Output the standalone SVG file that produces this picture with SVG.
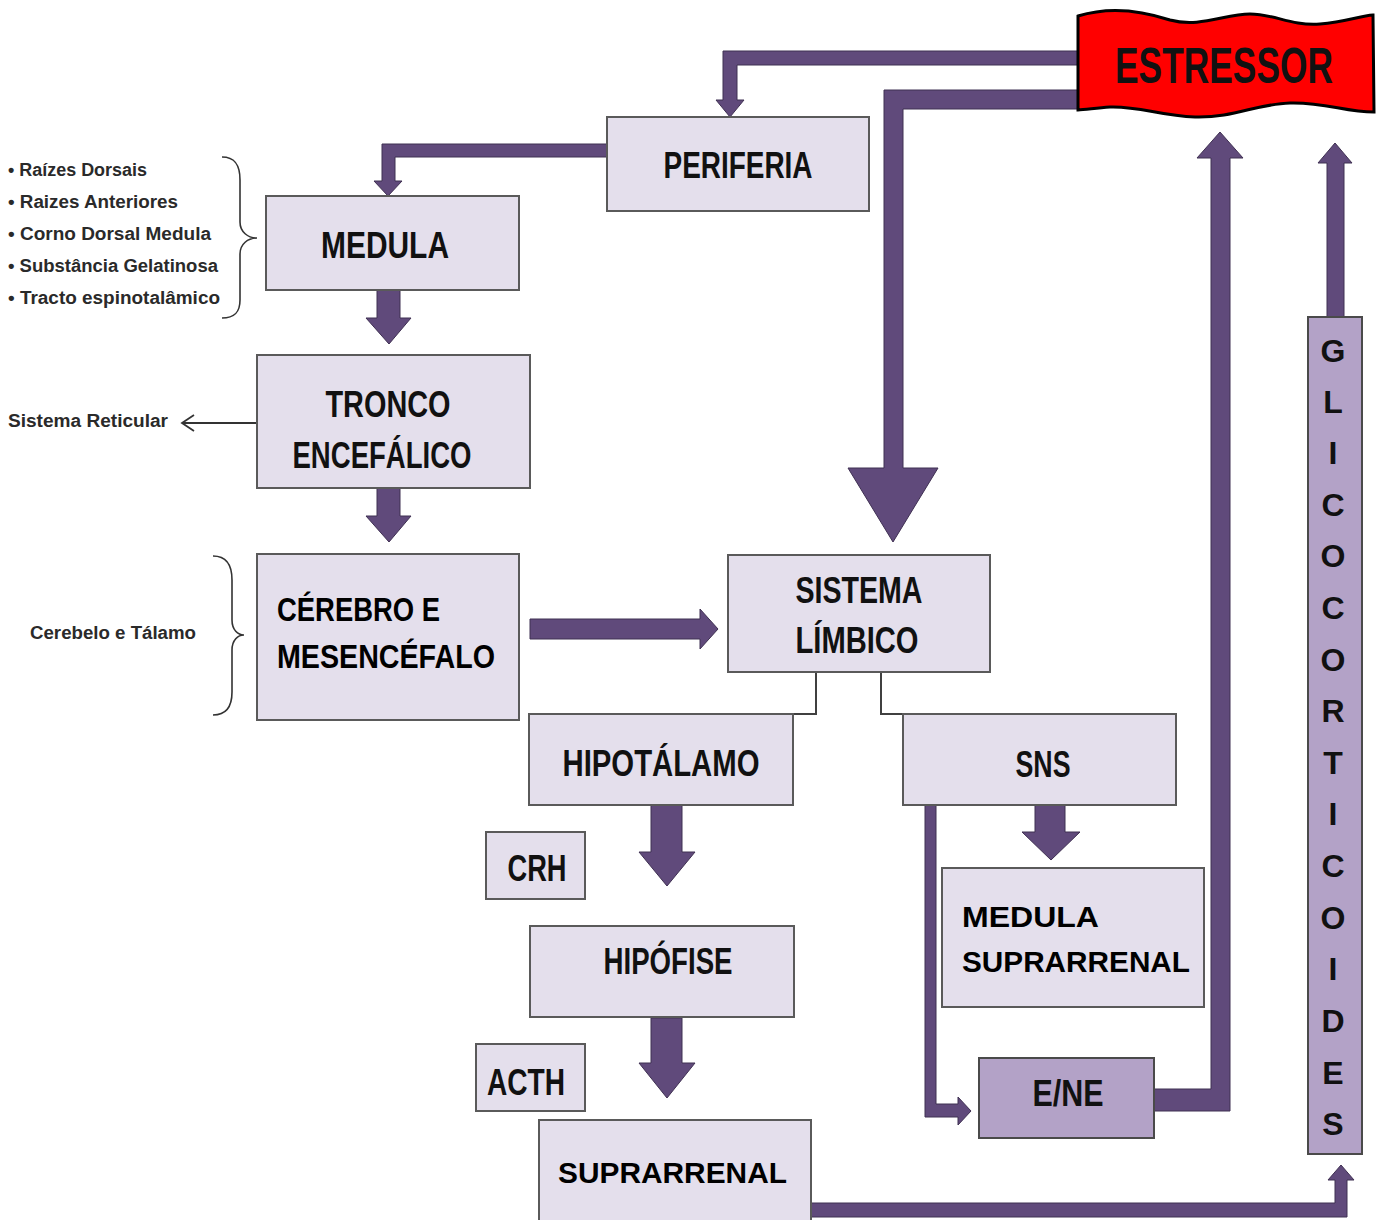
<svg xmlns="http://www.w3.org/2000/svg" width="1384" height="1220" viewBox="0 0 1384 1220">
<style>
.box{fill:#E4DFEC;stroke:#5a5a5a;stroke-width:2}
.box2{fill:#B3A2C7;stroke:#4a4a4a;stroke-width:2}
.arr{fill:#604A7B;stroke:#3f3052;stroke-width:1}
.thin{fill:none;stroke:#404040;stroke-width:2}
.brace{fill:none;stroke:#333;stroke-width:1.6}
.c{font-family:"Liberation Sans",Arial,sans-serif;font-weight:bold;font-size:36px;fill:#111;text-anchor:middle}
.w{font-family:"Liberation Sans",Arial,sans-serif;font-weight:bold;font-size:31px;fill:#000}
.s{font-family:"Liberation Sans",Arial,sans-serif;font-weight:bold;font-size:18px;fill:#2a2a2a}
.g{font-family:"Liberation Sans",Arial,sans-serif;font-weight:bold;font-size:32px;fill:#111;text-anchor:middle}
</style>
<rect width="1384" height="1220" fill="#fff"/>

<g id="connectors">
<polygon class="arr" points="1080,51 723,51 723,100 716,100 730,117 744,100 737,100 737,65 1080,65"/>
<polygon class="arr" points="1080,90 884,90 884,468 848,468 893,542 938,468 903,468 903,109 1080,109"/>
<polygon class="arr" points="607,144 382,144 382,181 374,181 388,196 402,181 395,181 395,157 607,157"/>
<polygon class="arr" points="377,290 400,290 400,318 411,318 389,344 366,318 377,318"/>
<polygon class="arr" points="377,488 400,488 400,516 411,516 389,542 366,516 377,516"/>
<polygon class="arr" points="530,619 700,619 700,609 718,629 700,649 700,639 530,639"/>
<polygon class="arr" points="651,805 682,805 682,852 695,852 667,886 639,852 651,852"/>
<polygon class="arr" points="651,1018 682,1018 682,1063 695,1063 667,1098 639,1063 651,1063"/>
<polygon class="arr" points="1035,805 1065,805 1065,832 1080,832 1051,860 1022,832 1035,832"/>
<polygon class="arr" points="925,805 936,805 936,1104 958,1104 958,1097 971,1111 958,1125 958,1117 925,1117"/>
<polygon class="arr" points="1154,1089 1211,1089 1211,158 1197,158 1220,132 1243,158 1230,158 1230,1111 1154,1111"/>
<polygon class="arr" points="811,1203 1335,1203 1335,1180 1328,1180 1341,1165 1354,1180 1347,1180 1347,1217 811,1217"/>
<polygon class="arr" points="1327,317 1327,163 1318,163 1335,143 1352,163 1344,163 1344,317"/>
<path class="thin" d="M816,672 V714 H793"/>
<path class="thin" d="M881,672 V714 H903"/>
<path d="M257,423 H183 M194,415 L182,423 L194,431" fill="none" stroke="#333" stroke-width="1.8"/>
</g>

<g id="estressor">
<path d="M1078,16 C1110,6 1140,10 1170,20 C1200,28 1225,14 1250,14 C1275,14 1290,26 1320,24 C1345,22 1360,16 1373,15 L1374,112 C1345,112 1325,102 1290,103 C1255,104 1235,118 1195,117 C1160,116 1140,106 1110,107 C1095,108 1085,110 1078,110 Z" fill="#FF0000" stroke="#000" stroke-width="3"/>
<text class="c" x="1224" y="83" style="font-size:50px" textLength="218" lengthAdjust="spacingAndGlyphs">ESTRESSOR</text>
</g>

<g id="periferia">
<rect class="box" x="607" y="117" width="262" height="94"/>
<text class="c" x="738" y="178" textLength="149" lengthAdjust="spacingAndGlyphs">PERIFERIA</text>
</g>

<g id="medula">
<rect class="box" x="266" y="196" width="253" height="94"/>
<text class="c" x="385" y="258" textLength="128" lengthAdjust="spacingAndGlyphs">MEDULA</text>
</g>

<g id="medula-list">
<text class="s" x="8" y="176" textLength="139" lengthAdjust="spacingAndGlyphs">• Raízes Dorsais</text>
<text class="s" x="8" y="208" textLength="170" lengthAdjust="spacingAndGlyphs">• Raizes Anteriores</text>
<text class="s" x="8" y="240" textLength="203" lengthAdjust="spacingAndGlyphs">• Corno Dorsal Medula</text>
<text class="s" x="8" y="272" textLength="210" lengthAdjust="spacingAndGlyphs">• Substância Gelatinosa</text>
<text class="s" x="8" y="304" textLength="212" lengthAdjust="spacingAndGlyphs">• Tracto espinotalâmico</text>
<path class="brace" d="M222,157 C235,157 240,165 240,180 L240,222 C240,232 248,238 257,238 C248,238 240,244 240,254 L240,300 C240,312 235,318 222,318"/>
</g>

<g id="tronco">
<rect class="box" x="257" y="355" width="273" height="133"/>
<text class="c" x="388" y="417" textLength="125" lengthAdjust="spacingAndGlyphs">TRONCO</text>
<text class="c" x="382" y="468" textLength="179" lengthAdjust="spacingAndGlyphs">ENCEFÁLICO</text>
</g>

<g id="sistema-reticular">
<text class="s" x="8" y="427" textLength="160" lengthAdjust="spacingAndGlyphs">Sistema Reticular</text>
</g>

<g id="cerebro">
<rect class="box" x="257" y="554" width="262" height="166"/>
<text class="w" x="277" y="621" style="font-size:33px" textLength="163" lengthAdjust="spacingAndGlyphs">CÉREBRO E</text>
<text class="w" x="277" y="668" style="font-size:33px" textLength="218" lengthAdjust="spacingAndGlyphs">MESENCÉFALO</text>
</g>

<g id="cerebelo">
<text class="s" x="30" y="639" textLength="166" lengthAdjust="spacingAndGlyphs">Cerebelo e Tálamo</text>
<path class="brace" d="M213,556 C226,556 232,565 232,580 L232,620 C232,630 238,635 244,635 C238,635 232,640 232,650 L232,692 C232,707 226,715 213,715"/>
</g>

<g id="sistema-limbico">
<rect class="box" x="728" y="555" width="262" height="117"/>
<text class="c" x="859" y="603" textLength="127" lengthAdjust="spacingAndGlyphs">SISTEMA</text>
<text class="c" x="857" y="653" textLength="123" lengthAdjust="spacingAndGlyphs">LÍMBICO</text>
</g>

<g id="hipotalamo">
<rect class="box" x="529" y="714" width="264" height="91"/>
<text class="c" x="661" y="776" textLength="197" lengthAdjust="spacingAndGlyphs">HIPOTÁLAMO</text>
</g>

<g id="sns">
<rect class="box" x="903" y="714" width="273" height="91"/>
<text class="c" x="1043" y="777" textLength="55" lengthAdjust="spacingAndGlyphs">SNS</text>
</g>

<g id="crh">
<rect class="box" x="486" y="832" width="99" height="67"/>
<text class="c" x="537" y="881" textLength="59" lengthAdjust="spacingAndGlyphs">CRH</text>
</g>

<g id="hipofise">
<rect class="box" x="530" y="926" width="264" height="91"/>
<text class="c" x="668" y="974" textLength="129" lengthAdjust="spacingAndGlyphs">HIPÓFISE</text>
</g>

<g id="acth">
<rect class="box" x="476" y="1044" width="109" height="67"/>
<text class="c" x="526" y="1095" textLength="78" lengthAdjust="spacingAndGlyphs">ACTH</text>
</g>

<g id="suprarrenal">
<rect class="box" x="539" y="1120" width="272" height="110"/>
<text class="w" x="558" y="1183" style="font-size:30px" textLength="229" lengthAdjust="spacingAndGlyphs">SUPRARRENAL</text>
</g>

<g id="medula-suprarrenal">
<rect class="box" x="942" y="868" width="262" height="139"/>
<text class="w" x="962" y="927" style="font-size:30px" textLength="137" lengthAdjust="spacingAndGlyphs">MEDULA</text>
<text class="w" x="962" y="972" style="font-size:30px" textLength="228" lengthAdjust="spacingAndGlyphs">SUPRARRENAL</text>
</g>

<g id="ene">
<rect class="box2" x="979" y="1058" width="175" height="80"/>
<text class="c" x="1068" y="1106" textLength="71" lengthAdjust="spacingAndGlyphs">E/NE</text>
</g>

<g id="glicocorticoides">
<rect class="box2" x="1308" y="317" width="54" height="837"/>
<text class="g" x="1333" y="362">G</text>
<text class="g" x="1333" y="413">L</text>
<text class="g" x="1333" y="464">I</text>
<text class="g" x="1333" y="516">C</text>
<text class="g" x="1333" y="567">O</text>
<text class="g" x="1333" y="619">C</text>
<text class="g" x="1333" y="671">O</text>
<text class="g" x="1333" y="722">R</text>
<text class="g" x="1333" y="774">T</text>
<text class="g" x="1333" y="825">I</text>
<text class="g" x="1333" y="877">C</text>
<text class="g" x="1333" y="929">O</text>
<text class="g" x="1333" y="980">I</text>
<text class="g" x="1333" y="1032">D</text>
<text class="g" x="1333" y="1084">E</text>
<text class="g" x="1333" y="1135">S</text>
</g>
</svg>
